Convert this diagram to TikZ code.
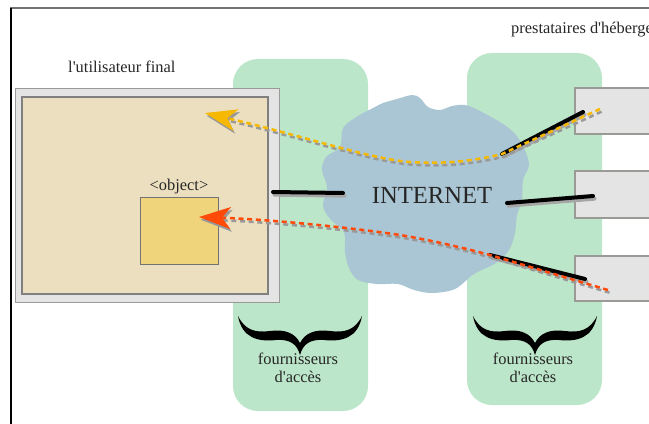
\documentclass[tikz,border=0pt]{standalone}
\usepackage{fontspec}
\setmainfont{Liberation Serif}
\usetikzlibrary{arrows.meta}

\definecolor{fondbeige}{HTML}{EBDFC0}
\definecolor{fondgris}{HTML}{E4E4E4}
\definecolor{bordgris}{HTML}{9A9A96}
\definecolor{objjaune}{HTML}{F0D47C}
\definecolor{fai}{HTML}{BCE6C9}
\definecolor{nuage}{HTML}{AAC6D4}
\definecolor{fluxjaune}{HTML}{F6B800}
\definecolor{fluxrouge}{HTML}{FF4A0A}

\begin{document}
\begin{tikzpicture}[x=0.03cm,y=-0.03cm,
	txt/.style={font=\fontsize{14}{15}\selectfont, text=black!85},
	link/.style={line width=1.2mm, line cap=round,
		preaction={draw=black!35, line width=1.2mm, line cap=round,
			transform canvas={shift={(0.45mm,-0.8mm)}}}},
	flux/.style={line width=0.75mm, dash pattern=on 1.5mm off 1.1mm,
		preaction={draw=black!40, line width=0.75mm, dash pattern=on 1.5mm off 1.1mm,
			transform canvas={shift={(0.45mm,-0.8mm)}}},
		-{Stealth[length=9.5mm,width=6.6mm,inset=2.6mm]}},
	server/.style={fill=fondgris, draw=bordgris, line width=0.35mm}]

	\useasboundingbox (0,0) rectangle (649,423);

	% frame
	\draw[black!55, line width=0.35mm] (10,8) -- (665,8);
	\draw[black, line width=0.75mm] (11,8) -- (11,430);

	% access providers
	\fill[fai, rounded corners=7.5mm] (233,59) rectangle (368,411);
	\fill[fai, rounded corners=7.5mm] (467,53) rectangle (602,405);

	% internet cloud
	\fill[nuage] plot[smooth cycle, tension=0.55] coordinates {
		(375,107) (383,103) (397,99) (412,95) (420,98) (428,107) (440,110)
		(452,106) (465,105) (478,110) (493,118) (506,126) (516,135) (524,148)
		(529,165) (523,180) (522,200) (517,215) (515,233) (509,250) (496,263)
		(474,274) (455,289) (432,293) (414,290) (398,284) (377,284) (358,280)
		(349,268) (345,252) (344,232) (331,220) (323,206) (327,187) (322,170)
		(326,157) (340,147) (343,128) (358,116)};
	\node[font=\fontsize{21}{22}\selectfont, text=black!85, anchor=base] (internet) at (432,203) {INTERNET};

	% end user
	\draw[fill=fondgris, draw=bordgris, line width=0.3mm] (15,88) rectangle (279,302);
	\draw[fill=fondbeige, draw=black!50, line width=0.4mm] (22,97) rectangle (268,294);
	\draw[fill=objjaune, draw=black!55, line width=0.3mm] (140,197) rectangle (218,264);
	\node[txt, anchor=base] (obj) at (179,190) {<object>};
	\node[txt, anchor=base west, inner sep=0pt] (final) at (68,72) {l\textquotesingle utilisateur final};

	% hosting providers
	\draw[server] (575,88) rectangle (665,134);
	\draw[server] (575,171) rectangle (665,218);
	\draw[server] (575,256) rectangle (665,301);
	\node[txt, anchor=base west, inner sep=0pt] (hosts) at (511,34) {prestataires d\textquotesingle hébergement};

	% links
	\coordinate (u) at (273,192);
	\coordinate (cw) at (343,193);
	\coordinate (ce) at (507,203);
	\coordinate (s2) at (593,196);
	\coordinate (cne) at (502,154);
	\coordinate (s1) at (583,112);
	\coordinate (cse) at (490,255);
	\coordinate (s3) at (585,279);
	\draw[link] (u) -- (cw);
	\draw[link] (ce) -- (s2);
	\draw[link] (cne) -- (s1);
	\draw[link] (cse) -- (s3);

	% flows
	\coordinate (y0) at (600,109);
	\coordinate (ytip) at (205,113);
	\coordinate (r0) at (608,290);
	\coordinate (rtip) at (199,217);
	\draw[flux, fluxjaune] (y0) -- (cne)
		.. controls (470,162) and (440,164) .. (410,162)
		.. controls (370,159) and (300,135) .. (ytip);
	\draw[flux, fluxrouge] (r0) -- (cse)
		.. controls (460,247) and (430,240) .. (400,235)
		.. controls (340,226) and (260,219) .. (rtip);

	% braces
	\foreach \c in {300,535} {
		\fill[black, shift={(\c,0)}] (-62,316)
			.. controls (-55,330) and (-45,333) .. (-30,331)
			.. controls (-15,329) and (-5,333) .. (0,343)
			.. controls (5,333) and (15,329) .. (30,331)
			.. controls (45,333) and (55,330) .. (62,316)
			.. controls (58,338) and (42,342) .. (24,340)
			.. controls (10,339) and (3,344) .. (0,355)
			.. controls (-3,344) and (-10,339) .. (-24,340)
			.. controls (-42,342) and (-58,338) .. (-62,316) -- cycle;
	}
	\node[txt, align=center, anchor=base] (isp1) at (298,382) {fournisseurs\\d\textquotesingle accès};
	\node[txt, align=center, anchor=base] (isp2) at (533,382) {fournisseurs\\d\textquotesingle accès};

\end{tikzpicture}
\end{document}
